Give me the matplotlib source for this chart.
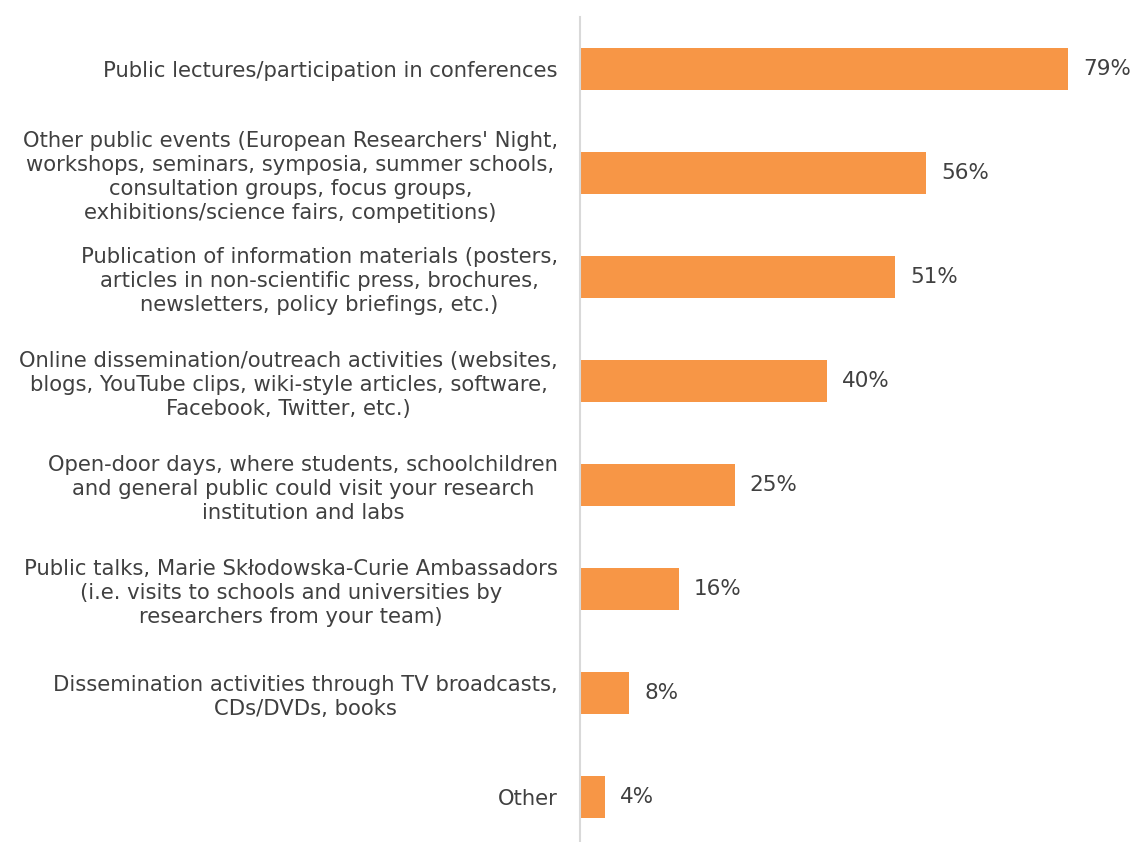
import numpy as np
import matplotlib.pyplot as plt

plt.rcParams['font.family'] = ['DejaVu Sans']

categories = [
    "Public lectures/participation in conferences",
    "Other public events (European Researchers' Night,\nworkshops, seminars, symposia, summer schools,\nconsultation groups, focus groups,\nexhibitions/science fairs, competitions)",
    "Publication of information materials (posters,\narticles in non-scientific press, brochures,\nnewsletters, policy briefings, etc.)",
    "Online dissemination/outreach activities (websites,\nblogs, YouTube clips, wiki-style articles, software,\nFacebook, Twitter, etc.)",
    "Open-door days, where students, schoolchildren\nand general public could visit your research\ninstitution and labs",
    "Public talks, Marie Skłodowska-Curie Ambassadors\n(i.e. visits to schools and universities by\nresearchers from your team)",
    "Dissemination activities through TV broadcasts,\nCDs/DVDs, books",
    "Other",
]
shares = [79, 56, 51, 40, 25, 16, 8, 4]

bar_color = '#F79646'
text_color = '#404040'

fig = plt.figure(figsize=(11.36, 8.42), dpi=100)
ax = fig.add_axes([0.5106, -0.008, 0.4895, 0.988])

ypos = np.arange(len(categories))
ax.barh(ypos, shares, height=0.4, color=bar_color)

for y, v in zip(ypos, shares):
    ax.text(v + 2.4, y, f'{v}%', va='center', ha='left',
            fontsize=15.5, color=text_color)

ax.set_xlim(0, 90)
ax.set_ylim(len(categories) - 0.5, -0.5)
ax.set_yticks(ypos)
ax.set_yticklabels(categories, fontsize=15.2, color=text_color,
                   multialignment='center', linespacing=1.25)
ax.tick_params(axis='y', length=0, pad=16)
ax.set_xticks([])

for side in ['top', 'right', 'bottom']:
    ax.spines[side].set_visible(False)
ax.spines['left'].set_color('#D9D9D9')
ax.spines['left'].set_linewidth(1.5)

fig.savefig('out.png', dpi=100)
